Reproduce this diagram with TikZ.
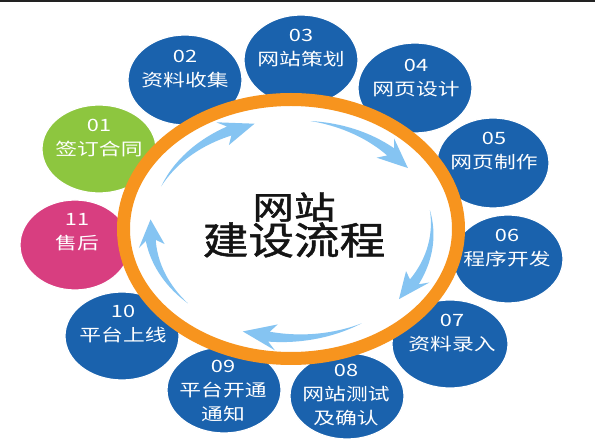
\documentclass[tikz,border=0pt]{standalone}
\usepackage{fontspec}
\usepackage{graphicx}
\newfontfamily\cjk{Noto Sans CJK SC}
\newfontfamily\cjkt[FakeBold=1.2]{Noto Sans CJK SC}
\usetikzlibrary{shapes.geometric}
\definecolor{cblue}{HTML}{1A62AD}
\definecolor{cgreen}{HTML}{8DC63F}
\definecolor{cpink}{HTML}{D83E80}
\definecolor{corange}{HTML}{F7941E}
\definecolor{carrow}{HTML}{85C4F2}
\definecolor{cdark}{HTML}{222222}
\tikzset{
  bubble/.style={ellipse, draw=white, line width=1.2pt, inner sep=0pt},
  btext/.style={text=white, align=center, font=\cjk\fontsize{17}{24}\selectfont, inner sep=0pt},
  ttext/.style={text=black!92, inner sep=0pt},
  arrowfill/.style={fill=carrow}
}
\newcommand{\widetxt}[1]{\scalebox{1.28}[1]{#1}}
\begin{document}
\begin{tikzpicture}[x=1pt,y=-1pt]
\useasboundingbox (0,0) rectangle (595,446);
\fill[white] (0,0) rectangle (595,446);
\fill[cdark] (0,0) rectangle (595,2.5);
% bubbles
\node[bubble, fill=cgreen, minimum width=114pt, minimum height=88pt] (c01) at (99,149) {};
\node[bubble, fill=cblue, minimum width=114pt, minimum height=90pt] (c02) at (185,80) {};
\node[bubble, fill=cblue, minimum width=114pt, minimum height=90pt] (c03) at (301,60) {};
\node[bubble, fill=cblue, minimum width=114pt, minimum height=90pt] (c04) at (415,88) {};
\node[bubble, fill=cblue, minimum width=112pt, minimum height=90pt] (c05) at (493,163) {};
\node[bubble, fill=cblue, minimum width=110pt, minimum height=88pt] (c06) at (508,259) {};
\node[bubble, fill=cblue, minimum width=116pt, minimum height=88pt] (c07) at (450,344) {};
\node[bubble, fill=cblue, minimum width=114pt, minimum height=86pt] (c08) at (347,396) {};
\node[bubble, fill=cblue, minimum width=114pt, minimum height=86pt] (c09) at (224,390) {};
\node[bubble, fill=cblue, minimum width=114pt, minimum height=88pt] (c10) at (122,336) {};
\node[bubble, fill=cpink, minimum width=110pt, minimum height=90pt] (c11) at (75,245) {};
% ring
\node[ellipse, draw=corange, line width=13pt, fill=white, minimum width=335pt, minimum height=259pt, inner sep=0pt] (ring) at (291,229) {};
% arrows
\def\cx{291}\def\cy{229}\def\rx{141}\def\ry{109}
\foreach \a/\c in {203/255, 278/326, 350/400, 60/110, 137/185} {
  \pgfmathsetmacro\b{\c-11}
  \pgfmathsetmacro\s{\b-\a}
  \fill[arrowfill]
    plot[domain=\a:\b, samples=30, variable=\t] ({\cx+(\rx+5*(\t-\a)/\s)*cos(\t)}, {\cy+(\ry+5*(\t-\a)/\s)*sin(\t)})
    -- ({\cx+(\rx+13)*cos(\b-3)}, {\cy+(\ry+13)*sin(\b-3)})
    -- ({\cx+\rx*cos(\c)}, {\cy+\ry*sin(\c)})
    -- ({\cx+(\rx-13)*cos(\b-3)}, {\cy+(\ry-13)*sin(\b-3)})
    -- plot[domain=\b:\a, samples=30, variable=\t] ({\cx+(\rx-5*(\t-\a)/\s)*cos(\t)}, {\cy+(\ry-5*(\t-\a)/\s)*sin(\t)})
    -- cycle;
}
% title
\node[ttext, font=\cjkt\fontsize{32}{32}\selectfont] (title1) at (294,207) {\scalebox{1.3}[1]{网站}};
\node[ttext, font=\cjkt\fontsize{38}{38}\selectfont] (title2) at (294,240) {\scalebox{1.2}[1]{建设流程}};
% bubble texts
\node[btext] (t01) at (99,138.5) {\widetxt{01}\\\widetxt{签订合同}};
\node[btext] (t02) at (185,69.5) {\widetxt{02}\\\widetxt{资料收集}};
\node[btext] (t03) at (301,48.5) {\widetxt{03}\\\widetxt{网站策划}};
\node[btext] (t04) at (416,78.5) {\widetxt{04}\\\widetxt{网页设计}};
\node[btext] (t05) at (494,151.5) {\widetxt{05}\\\widetxt{网页制作}};
\node[btext] (t06) at (507,248.5) {\widetxt{06}\\\widetxt{程序开发}};
\node[btext] (t07) at (452,333.5) {\widetxt{07}\\\widetxt{资料录入}};
\node[btext] (t08) at (346,395) {\widetxt{08}\\\widetxt{网站测试}\\\widetxt{及确认}};
\node[btext] (t09) at (223,390.5) {\widetxt{09}\\\widetxt{平台开通}\\\widetxt{通知}};
\node[btext] (t10) at (123,324.5) {\widetxt{10}\\\widetxt{平台上线}};
\node[btext] (t11) at (77,232.5) {\widetxt{11}\\\widetxt{售后}};
\end{tikzpicture}
\end{document}
